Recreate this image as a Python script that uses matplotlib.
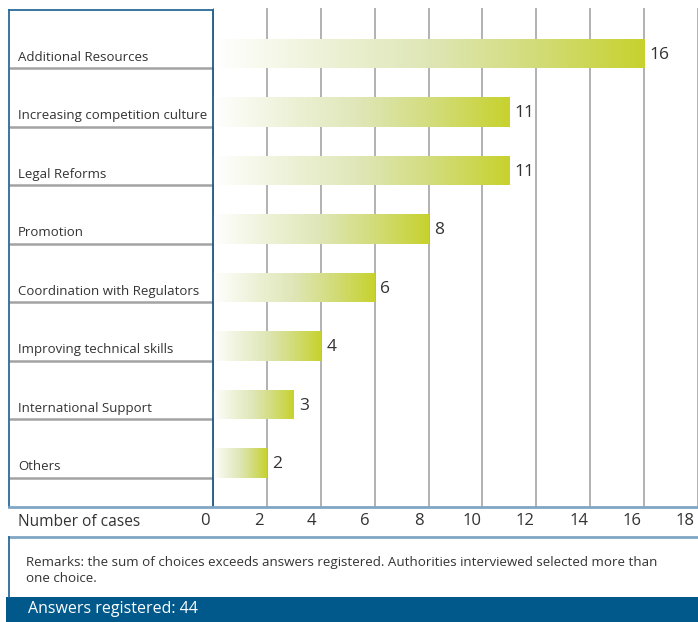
import matplotlib
matplotlib.use("Agg")
import matplotlib.pyplot as plt
import numpy as np
from matplotlib.colors import LinearSegmentedColormap
from matplotlib.lines import Line2D
from matplotlib.patches import Rectangle
from matplotlib.transforms import ScaledTranslation

plt.rcParams['font.family'] = ['Open Sans', 'DejaVu Sans']

categories = ["Additional Resources", "Increasing competition culture", "Legal Reforms",
              "Promotion", "Coordination with Regulators", "Improving technical skills",
              "International Support", "Others"]
cases = [16, 11, 11, 8, 6, 4, 3, 2]
x_ticks = [0, 2, 4, 6, 8, 10, 12, 14, 16, 18]
axis_title = "Number of cases"
remarks = ("Remarks: the sum of choices exceeds answers registered. Authorities interviewed selected more than\n"
           "one choice.")
footer = "Answers registered: 44"

W, H = 698, 622
TEXT = "#333333"
BOX_BLUE = "#2b6a98"
RULE_BLUE = "#7fa6c4"
SEP_GREY = "#a3a3a3"
GRID_GREY = "#ababab"

def fx(px):
    return px / W

def fy(py):
    return 1 - py / H

fig = plt.figure(figsize=(W / 100, H / 100), dpi=100)

# plot area: x=213..698 px, y=10..507 px
left, right, top, bottom = 213, 698, 10, 507
unit = 27.06        # px per case
row = 58.5          # px per category row
ax = fig.add_axes([fx(left), fy(bottom), fx(right) - fx(left), (bottom - 8) / H])

n = len(categories)
bar_h = 0.51
ys = [i + 1 - bar_h for i in range(n)]
bars = ax.barh(ys, cases, height=bar_h, align='edge', facecolor='none', edgecolor='none')

cmap = LinearSegmentedColormap.from_list("lime", ["#ffffff", "#eef2d8", "#dfe6b6", "#d2dc78", "#c7d22e"],)
grad = np.linspace(0, 1, 256).reshape(1, -1)
for b in bars:
    x0, y0 = b.get_x(), b.get_y()
    w, h = b.get_width(), b.get_height()
    im = ax.imshow(grad, extent=(x0, x0 + w, y0 + h, y0), cmap=cmap, aspect='auto',
                   interpolation='bilinear', zorder=2)
    im.set_clip_path(b)

for y, v in zip(ys, cases):
    ax.text(v + 0.2, y + bar_h / 2 + 0.02, str(v), va='center', ha='left', fontsize=12.5, color=TEXT)

ax.set_xlim(0, (right - left) / unit)
ax.set_ylim((bottom - top) / row, -2 / row)
ax.set_xticks(x_ticks)
ax.set_yticks([])
ax.grid(axis='x', color=GRID_GREY, lw=1.3, zorder=0)
ax.set_axisbelow(True)
for s in ['top', 'right', 'bottom']:
    ax.spines[s].set_visible(False)
ax.spines['left'].set_color("#1d5a87")
ax.spines['left'].set_linewidth(1.3)
ax.spines['left'].set_bounds((bottom - top) / row, 0)
ax.spines['left'].set_zorder(5)
ax.tick_params(axis='x', length=0, pad=4, labelsize=12, labelcolor=TEXT)
# tick numbers sit a little left of their gridlines, drifting more to the right
for k, lbl in zip(x_ticks, ax.get_xticklabels()):
    shift = ScaledTranslation(-(8 + 0.25 * k) / 100, 0, fig.dpi_scale_trans)
    lbl.set_transform(lbl.get_transform() + shift)

# category label panel
ax_x = lambda px: (px - left) / (right - left)
ytr = ax.get_yaxis_transform()
for i, name in enumerate(categories):
    ax.text(ax_x(18), i + 1 - 0.19, name, transform=ytr, ha='left', va='center',
            fontsize=9.5, color=TEXT, clip_on=False)
ax.hlines(range(1, n + 1), ax_x(9), 0, transform=ytr, colors=SEP_GREY, lw=1.8, clip_on=False)

fig.add_artist(Line2D([fx(9), fx(9)], [fy(10), fy(bottom)], color=BOX_BLUE, lw=1.3))
fig.add_artist(Line2D([fx(9), fx(213)], [fy(10), fy(10)], color=BOX_BLUE, lw=1.3))
fig.add_artist(Line2D([fx(9), fx(698)], [fy(bottom), fy(bottom)], color=RULE_BLUE, lw=2))

fig.text(fx(18), fy(522), axis_title, ha='left', va='center', fontsize=11.2, color=TEXT)

# remarks and footer
fig.add_artist(Line2D([fx(9), fx(698)], [fy(537), fy(537)], color=RULE_BLUE, lw=2))
fig.add_artist(Line2D([fx(9), fx(9)], [fy(537), fy(597)], color=BOX_BLUE, lw=1.3))
fig.text(fx(26), fy(570.5), remarks, ha='left', va='center', fontsize=9.6, color=TEXT, linespacing=1.25)
fig.add_artist(Rectangle((fx(6), 0), 1 - fx(6), 25 / H, transform=fig.transFigure,
                         facecolor="#00588b", edgecolor='none'))
fig.text(fx(28), fy(609), footer, ha='left', va='center', fontsize=11.5, color='white')

fig.savefig("out.png", dpi=100)
